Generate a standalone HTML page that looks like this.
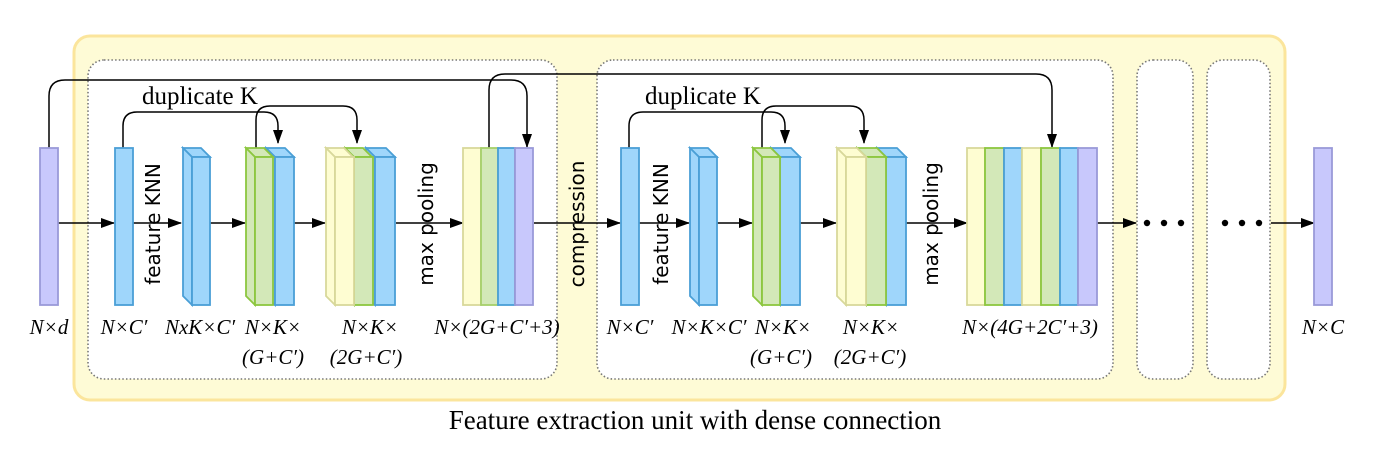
<!DOCTYPE html>
<html><head><meta charset="utf-8"><style>
html,body{margin:0;padding:0;background:#fff;}
svg{display:block;}
.lb{font-family:"Liberation Serif",serif;font-style:italic;font-size:21px;fill:#000;}
.sn{font-family:"DejaVu Sans","Liberation Sans",sans-serif;font-size:20px;fill:#000;}
.sr{font-family:"Liberation Serif",serif;font-size:25px;fill:#000;}
</style></head><body>
<svg width="1382" height="454" viewBox="0 0 1382 454" xmlns="http://www.w3.org/2000/svg">
<defs>
<marker id="a" markerWidth="14" markerHeight="10" refX="13" refY="5" orient="auto" markerUnits="userSpaceOnUse">
<path d="M0,0 L14,5 L0,10 z" fill="#000"/></marker>
</defs>
<rect x="74" y="36" width="1211" height="364" rx="16" fill="#fefbd6" stroke="#fbe59c" stroke-width="3"/>
<g fill="#fff" stroke="#777" stroke-width="1.6" stroke-dasharray="1.5,2.2">
<rect x="88" y="60" width="469" height="319" rx="16"/>
<rect x="597" y="60" width="516" height="319" rx="16"/>
<rect x="1137" y="60" width="56" height="319" rx="16"/>
<rect x="1207" y="60" width="63" height="319" rx="16"/>
</g>

<g stroke="#000" stroke-width="1.5" fill="none">
<line x1="58" y1="223" x2="114" y2="223" marker-end="url(#a)"/>
<line x1="133" y1="223" x2="181" y2="223" marker-end="url(#a)"/>
<line x1="210" y1="223" x2="245" y2="223" marker-end="url(#a)"/>
<line x1="294" y1="223" x2="325" y2="223" marker-end="url(#a)"/>
<line x1="396" y1="223" x2="463" y2="223" marker-end="url(#a)"/>
<line x1="534" y1="223" x2="620" y2="223" marker-end="url(#a)"/>
<line x1="639" y1="223" x2="689" y2="223" marker-end="url(#a)"/>
<line x1="717" y1="223" x2="752" y2="223" marker-end="url(#a)"/>
<line x1="800" y1="223" x2="836" y2="223" marker-end="url(#a)"/>
<line x1="906" y1="223" x2="967" y2="223" marker-end="url(#a)"/>
<line x1="1097" y1="223" x2="1136" y2="223" marker-end="url(#a)"/>
<line x1="1271" y1="223" x2="1314" y2="223" marker-end="url(#a)"/>
<path d="M49,148 V96 Q49,80 65,80 H511 Q527,80 527,96 V147" marker-end="url(#a)"/>
<path d="M489,148 V90 Q489,74 505,74 H1036 Q1052,74 1052,90 V147" marker-end="url(#a)"/>
<path d="M123,148 V126 Q123,112 137,112 H264 Q278,112 278,126 V143" marker-end="url(#a)"/>
<path d="M256,148 V120 Q256,106 270,106 H343 Q357,106 357,120 V143" marker-end="url(#a)"/>
<path d="M629,148 V126 Q629,112 643,112 H771 Q785,112 785,126 V143" marker-end="url(#a)"/>
<path d="M762,148 V120 Q762,106 776,106 H850 Q864,106 864,120 V143" marker-end="url(#a)"/>
</g>

<g stroke-width="1.8">
<rect x="40" y="148" width="18" height="157" fill="#c8c8fc" stroke="#9a9ad8"/>
<rect x="1314" y="148" width="18" height="157" fill="#c8c8fc" stroke="#9a9ad8"/>
<rect x="115" y="148" width="18" height="157" fill="#9fd6fb" stroke="#4a9fd6"/>
<g fill="#9fd6fb" stroke="#4a9fd6">
<polygon points="183,148 201,148 210,157 192,157"/><polygon points="183,148 192,157 192,305 183,296"/><rect x="192" y="157" width="18" height="148"/>
<polygon points="266,148 285,148 294,157 275,157"/><polygon points="266,148 275,157 275,305 266,296"/><rect x="275" y="157" width="19" height="148"/>
</g>
<g fill="#d3e8b8" stroke="#8cc63f">
<polygon points="246,148 264,148 273,157 255,157"/><polygon points="246,148 255,157 255,305 246,296"/><rect x="255" y="157" width="18" height="148"/>
</g>
<g fill="#9fd6fb" stroke="#4a9fd6">
<polygon points="366,148 386,148 395,157 375,157"/><polygon points="366,148 375,157 375,305 366,296"/><rect x="375" y="157" width="20" height="148"/>
</g>
<g fill="#d3e8b8" stroke="#8cc63f">
<polygon points="345,148 363,148 372,157 354,157"/><polygon points="345,148 354,157 354,305 345,296"/><rect x="354" y="157" width="19" height="148"/>
</g>
<g fill="#fefdd2" stroke="#d8d89a">
<polygon points="326,148 344,148 353,157 335,157"/><polygon points="326,148 335,157 335,305 326,296"/><rect x="335" y="157" width="19" height="148"/>
</g>
<rect x="463" y="148" width="18" height="157" fill="#fefdd2" stroke="#d8d89a"/>
<rect x="481" y="148" width="17" height="157" fill="#d3e8b8" stroke="#a6cf6a"/>
<rect x="498" y="148" width="17" height="157" fill="#9fd6fb" stroke="#4a9fd6"/>
<rect x="515" y="148" width="18" height="157" fill="#c8c8fc" stroke="#9a9ad8"/>
<rect x="621" y="148" width="18" height="157" fill="#9fd6fb" stroke="#4a9fd6"/>
<g fill="#9fd6fb" stroke="#4a9fd6">
<polygon points="690,148 708,148 717,157 699,157"/><polygon points="690,148 699,157 699,305 690,296"/><rect x="699" y="157" width="18" height="148"/>
<polygon points="771,148 791,148 800,157 780,157"/><polygon points="771,148 780,157 780,305 771,296"/><rect x="780" y="157" width="20" height="148"/>
</g>
<g fill="#d3e8b8" stroke="#8cc63f">
<polygon points="753,148 771,148 780,157 762,157"/><polygon points="753,148 762,157 762,305 753,296"/><rect x="762" y="157" width="18" height="148"/>
</g>
<g fill="#9fd6fb" stroke="#4a9fd6">
<polygon points="877,148 897,148 906,157 886,157"/><polygon points="877,148 886,157 886,305 877,296"/><rect x="886" y="157" width="20" height="148"/>
</g>
<g fill="#d3e8b8" stroke="#8cc63f">
<polygon points="857,148 877,148 886,157 866,157"/><polygon points="857,148 866,157 866,305 857,296"/><rect x="866" y="157" width="20" height="148"/>
</g>
<g fill="#fefdd2" stroke="#d8d89a">
<polygon points="837,148 857,148 866,157 846,157"/><polygon points="837,148 846,157 846,305 837,296"/><rect x="846" y="157" width="20" height="148"/>
</g>
<rect x="967" y="148" width="18" height="157" fill="#fefdd2" stroke="#d8d89a"/>
<rect x="985" y="148" width="19" height="157" fill="#d3e8b8" stroke="#8cc63f"/>
<rect x="1004" y="148" width="18" height="157" fill="#9fd6fb" stroke="#4a9fd6"/>
<rect x="1022" y="148" width="19" height="157" fill="#fefdd2" stroke="#d8d89a"/>
<rect x="1041" y="148" width="19" height="157" fill="#d3e8b8" stroke="#8cc63f"/>
<rect x="1060" y="148" width="18" height="157" fill="#9fd6fb" stroke="#4a9fd6"/>
<rect x="1078" y="148" width="19" height="157" fill="#c8c8fc" stroke="#9a9ad8"/>
</g>

<g fill="#000">
<circle cx="1147" cy="223" r="3.2"/><circle cx="1164" cy="223" r="3.2"/><circle cx="1181" cy="223" r="3.2"/>
<circle cx="1225" cy="223" r="3.2"/><circle cx="1242" cy="223" r="3.2"/><circle cx="1259" cy="223" r="3.2"/>
</g>

<text class="sn" text-anchor="middle" transform="translate(160,224) rotate(-90)">feature KNN</text>
<text class="sn" text-anchor="middle" transform="translate(433,224) rotate(-90)">max pooling</text>
<text class="sn" text-anchor="middle" transform="translate(584,224) rotate(-90)">compression</text>
<text class="sn" text-anchor="middle" transform="translate(668,224) rotate(-90)">feature KNN</text>
<text class="sn" text-anchor="middle" transform="translate(938,224) rotate(-90)">max pooling</text>

<text class="sr" x="142" y="104">duplicate K</text>
<text class="sr" x="645" y="104">duplicate K</text>

<g class="lb" text-anchor="middle">
<text x="49" y="334">N×d</text>
<text x="124" y="334">N×C′</text>
<text x="200" y="334">NxK×C′</text>
<text x="273" y="334">N×K×</text>
<text x="273" y="364">(G+C′)</text>
<text x="370" y="334">N×K×</text>
<text x="366" y="364">(2G+C′)</text>
<text x="497" y="334">N×(2G+C′+3)</text>
<text x="630" y="334">N×C′</text>
<text x="709" y="334">N×K×C′</text>
<text x="783" y="334">N×K×</text>
<text x="781" y="364">(G+C′)</text>
<text x="871" y="334">N×K×</text>
<text x="870" y="364">(2G+C′)</text>
<text x="1030" y="334">N×(4G+2C′+3)</text>
<text x="1323" y="334">N×C</text>
</g>

<text x="695" y="429" text-anchor="middle" style="font-family:'Liberation Serif',serif;font-size:27px;">Feature extraction unit with dense connection</text>
</svg>
</body></html>
